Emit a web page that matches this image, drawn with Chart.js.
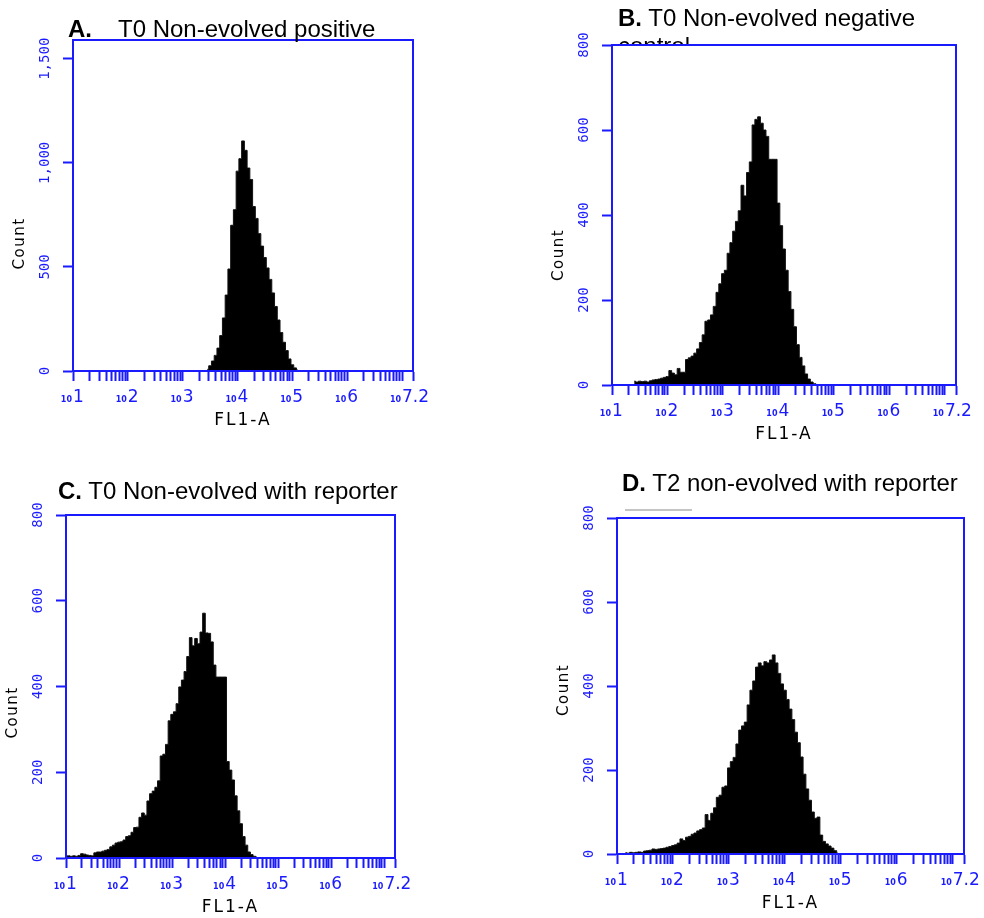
<!DOCTYPE html>
<html>
<head>
<meta charset="utf-8">
<script src="https://cdn.jsdelivr.net/npm/chart.js@4.4.1/dist/chart.umd.min.js"></script>
<style>
  body { margin: 0; background: #fff; }
  #page { position: relative; width: 984px; height: 918px; overflow: hidden; }
  .panel { position: absolute; width: 492px; height: 459px; }
  .title { position: absolute; font: 24px "Liberation Sans", Arial, sans-serif; line-height: 24px; white-space: nowrap; color: #000; }
  .clip { position: absolute; overflow: hidden; }
</style>
</head>
<body>
<div id="page">
  <div class="panel" style="left:0;top:0"><canvas id="chartA" width="492" height="459"></canvas></div>
  <div class="panel" style="left:492px;top:0"><canvas id="chartB" width="492" height="459"></canvas></div>
  <div class="panel" style="left:0;top:459px"><canvas id="chartC" width="492" height="459"></canvas></div>
  <div class="panel" style="left:492px;top:459px"><canvas id="chartD" width="492" height="459"></canvas></div>

  <div class="title" style="left:68px;top:17px"><b>A.</b><span style="margin-left:26px">T0 Non-evolved positive</span></div>
  <div class="title" style="left:618px;top:6px"><b>B.</b> T0 Non-evolved negative</div>
  <div class="clip" style="left:618px;top:30px;width:120px;height:14px">
    <div class="title" style="left:0;top:4px">control</div>
  </div>
  <div class="title" style="left:58px;top:479px"><b>C.</b> T0 Non-evolved with reporter</div>
  <div class="title" style="left:622px;top:471px"><b>D.</b> T2 non-evolved with reporter</div>
  <div style="position:absolute;left:625px;top:509px;width:67px;height:2px;background:#c4c4c4"></div>
</div>

<script>
// FL1-A histograms, counts per bin of 0.05 decade
const BIN_WIDTH = 0.05;

const startA = 3.45;
const countsA = [8, 25, 48, 75, 110, 170, 255, 365, 490, 700, 775, 960, 1020, 1105, 1060, 975, 920, 790, 733, 660,
    600, 545, 495, 440, 375, 310, 245, 185, 138, 98, 58, 30, 15, 5];

const startB = 1.40;
const countsB = [9, 7, 9, 8, 9, 7, 10, 12, 13, 14, 16, 18, 20, 34, 28, 24, 39, 30, 30, 60,
    64, 68, 75, 85, 100, 118, 150, 153, 165, 185, 218, 238, 262, 270, 310, 335, 362, 385, 410, 470,
    445, 500, 525, 612, 625, 631, 616, 600, 585, 531, 531, 531, 428, 375, 320, 270, 220, 178, 137, 95,
    65, 45, 26, 14, 7, 3, 1];

const startC = 1.00;
const countsC = [5, 5, 4, 5, 4, 6, 10, 9, 7, 6, 5, 12, 14, 14, 16, 18, 20, 26, 30, 35,
    37, 38, 42, 50, 52, 60, 71, 72, 95, 105, 100, 133, 150, 156, 165, 180, 238, 242, 265, 320,
    335, 341, 360, 399, 415, 435, 470, 514, 495, 512, 500, 527, 571, 525, 524, 504, 450, 422, 422, 422,
    422, 225, 205, 182, 145, 110, 80, 50, 30, 14, 8, 4, 2];

const startD = 1.15;
const countsD = [3, 2, 4, 3, 4, 5, 4, 7, 8, 9, 12, 11, 12, 13, 14, 16, 18, 20, 22, 26,
    36, 32, 40, 42, 47, 50, 55, 58, 62, 94, 80, 97, 110, 135, 140, 159, 162, 205, 220, 230,
    262, 295, 305, 314, 355, 390, 412, 445, 455, 448, 458, 455, 462, 474, 455, 430, 405, 390, 368, 345,
    320, 290, 265, 231, 190, 155, 128, 100, 85, 88, 45, 30, 24, 19, 14, 8, 2];

// axes
const xMinExp = 1;
const xMaxExp = 7.2;
const xLabelExps = [1, 2, 3, 4, 5, 6, 7];
const xLabelTexts = ['1', '2', '3', '4', '5', '6', '7.2'];

const yTicksA = [0, 500, 1000, 1500];
const yLabelsA = ['0', '500', '1,000', '1,500'];
const yTicks800 = [0, 200, 400, 600, 800];
const yLabels800 = ['0', '200', '400', '600', '800'];

const BLUE = '#1a1aff';

// log ticks 1..9 x 10^n, plus the end of the range
function logTicks() {
    const out = [];
    for (let e = xMinExp; e < Math.floor(xMaxExp); e++) {
        for (let m = 1; m <= 9; m++) out.push(m * Math.pow(10, e));
    }
    out.push(Math.pow(10, Math.floor(xMaxExp)));
    out.push(Math.pow(10, xMaxExp));
    return out.map(v => ({ value: v }));
}

function toPoints(start, counts) {
    return counts.map((c, i) => ({ x: Math.pow(10, start + i * BIN_WIDTH), y: c }));
}

const panelDecor = {
    id: 'panelDecor',
    afterDraw(chart, args, opts) {
        const { ctx, chartArea: a } = chart;
        const x = chart.scales.x, y = chart.scales.y;
        ctx.save();

        ctx.strokeStyle = BLUE;
        ctx.lineWidth = 2;
        ctx.strokeRect(a.left, a.top, a.right - a.left, a.bottom - a.top);

        // y tick labels, rotated
        ctx.fillStyle = BLUE;
        ctx.font = '14px "DejaVu Sans Mono"';
        ctx.textAlign = 'center';
        ctx.textBaseline = 'middle';
        opts.yTicks.forEach((v, i) => {
            ctx.save();
            ctx.translate(a.left - 28, y.getPixelForValue(v));
            ctx.rotate(-Math.PI / 2);
            ctx.fillText(opts.yLabels[i], 0, 0);
            ctx.restore();
        });

        // x tick labels: small "10" + exponent
        ctx.textBaseline = 'alphabetic';
        const base = a.bottom + 31;
        xLabelExps.forEach((e, i) => {
            const px = x.getPixelForValue(Math.pow(10, e));
            ctx.font = 'bold 8px "DejaVu Sans"';
            ctx.textAlign = 'right';
            ctx.fillText('10', px - 1, base);
            ctx.font = '17px "DejaVu Sans"';
            ctx.textAlign = 'left';
            ctx.fillText(xLabelTexts[i], px, base);
        });

        // axis titles
        ctx.fillStyle = '#000';
        ctx.letterSpacing = '2px';
        ctx.font = '17px "DejaVu Sans"';
        ctx.textAlign = 'center';
        ctx.fillText('FL1-A', (a.left + a.right) / 2, a.bottom + 54);

        ctx.letterSpacing = '1.5px';
        ctx.font = '15px "DejaVu Sans"';
        ctx.textBaseline = 'middle';
        ctx.save();
        ctx.translate(a.left - 53, (a.top + a.bottom) / 2 + opts.countShift);
        ctx.rotate(-Math.PI / 2);
        ctx.fillText('Count', 0, 0);
        ctx.restore();

        ctx.restore();
    }
};

function makeChart(p) {
    new Chart(document.getElementById(p.id), {
        type: 'line',
        data: {
            datasets: [{
                data: toPoints(p.start, p.counts),
                stepped: 'middle',
                fill: 'origin',
                backgroundColor: '#000',
                borderColor: '#111',
                borderWidth: 1,
                pointRadius: 0
            }]
        },
        options: {
            responsive: false,
            animation: false,
            events: [],
            layout: { padding: p.pad },
            plugins: {
                legend: { display: false },
                tooltip: { enabled: false },
                panelDecor: { yTicks: p.yTicks, yLabels: p.yLabels, countShift: p.countShift }
            },
            scales: {
                x: {
                    type: 'logarithmic',
                    min: Math.pow(10, xMinExp),
                    max: Math.pow(10, xMaxExp),
                    afterBuildTicks: s => { s.ticks = logTicks(); },
                    afterFit: s => { s.height = 60; },
                    ticks: { display: false },
                    grid: { drawOnChartArea: false, tickLength: 10, tickWidth: 2, tickColor: BLUE, color: BLUE },
                    border: { color: BLUE, width: 2 }
                },
                y: {
                    min: 0,
                    max: p.yMax,
                    afterBuildTicks: s => { s.ticks = p.yTicks.map(v => ({ value: v })); },
                    afterFit: s => { s.width = 40; },
                    ticks: { display: false },
                    grid: { drawOnChartArea: false, tickLength: 10, tickWidth: 2, tickColor: BLUE, color: BLUE },
                    border: { color: BLUE, width: 2 }
                }
            }
        },
        plugins: [panelDecor]
    });
}

[
    { id: 'chartA', start: startA, counts: countsA, yMax: 1590, yTicks: yTicksA, yLabels: yLabelsA,
      pad: { left: 33, top: 40, right: 79, bottom: 28 }, countShift: 38 },
    { id: 'chartB', start: startB, counts: countsB, yMax: 800, yTicks: yTicks800, yLabels: yLabels800,
      pad: { left: 80, top: 45, right: 28, bottom: 14 }, countShift: 40 },
    { id: 'chartC', start: startC, counts: countsC, yMax: 800, yTicks: yTicks800, yLabels: yLabels800,
      pad: { left: 26, top: 56, right: 97, bottom: 0 }, countShift: 26 },
    { id: 'chartD', start: startD, counts: countsD, yMax: 800, yTicks: yTicks800, yLabels: yLabels800,
      pad: { left: 85, top: 59, right: 20, bottom: 4 }, countShift: 4 }
].forEach(makeChart);
</script>
</body>
</html>
